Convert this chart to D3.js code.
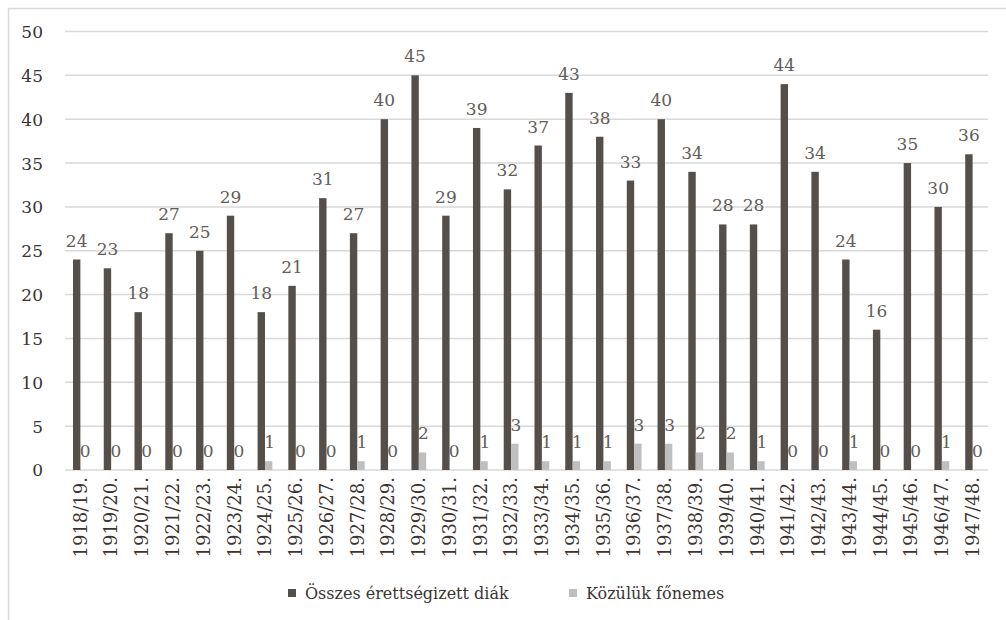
<!DOCTYPE html>
<html><head><meta charset="utf-8">
<script src="https://cdn.jsdelivr.net/npm/d3@7"></script>
<style>body{margin:0;background:#fff}svg{display:block}</style>
</head><body><svg id="c" width="1006" height="620"></svg>
<script>
const categories = ["1918/19.","1919/20.","1920/21.","1921/22.","1922/23.","1923/24.","1924/25.","1925/26.","1926/27.","1927/28.","1928/29.","1929/30.","1930/31.","1931/32.","1932/33.","1933/34.","1934/35.","1935/36.","1936/37.","1937/38.","1938/39.","1939/40.","1940/41.","1941/42.","1942/43.","1943/44.","1944/45.","1945/46.","1946/47.","1947/48."];
const totalStudents = [24,23,18,27,25,29,18,21,31,27,40,45,29,39,32,37,43,38,33,40,34,28,28,44,34,24,16,35,30,36];
const nobleStudents = [0,0,0,0,0,0,1,0,0,1,0,2,0,1,3,1,1,1,3,3,2,2,1,0,0,1,0,0,1,0];
const seriesNames = ["Összes érettségizett diák","Közülük főnemes"];
const yTicks = [0,5,10,15,20,25,30,35,40,45,50];
const colors = ["#544f4a","#bfbfbf"];
const FONT = "'DejaVu Serif', serif";

const svg = d3.select("#c");
svg.append("rect").attr("x",8.5).attr("y",8.5).attr("width",1100).attr("height",700)
  .attr("fill","none").attr("stroke","#d9d9d9").attr("stroke-width",1.5);

const L=65,R=988,T=31.5,B=470;
const y = d3.scaleLinear().domain([0,50]).range([B,T]);
const x = d3.scaleBand().domain(categories).range([L,R]).padding(0);
const x1 = d3.scaleBand().domain([0,1]).range([0,x.bandwidth()]).paddingInner(0).paddingOuter(1.08);

svg.append("g").selectAll("line").data(yTicks).join("line")
  .attr("x1",L).attr("x2",R).attr("y1",d=>y(d)).attr("y2",d=>y(d))
  .attr("stroke","#d9d9d9").attr("stroke-width",1.5);

const yAxis = d3.axisLeft(y).tickValues(yTicks).tickSize(0).tickPadding(0);
const gy = svg.append("g").attr("transform","translate(43,0)").call(yAxis);
gy.select(".domain").remove();
gy.attr("font-family",null);
gy.selectAll("text").style("font-family",FONT).style("font-size","17px").attr("fill","#3b3430").attr("dy","0.35em");

const data = categories.map((c,i)=>({c, v:[totalStudents[i], nobleStudents[i]]}));
const groups = svg.append("g").selectAll("g").data(data).join("g")
  .attr("transform",d=>`translate(${x(d.c)},0)`);
groups.selectAll("rect").data(d=>d.v.map((v,k)=>({v,k}))).join("rect")
  .attr("x",d=>x1(d.k)).attr("width",x1.bandwidth())
  .attr("y",d=>y(d.v)).attr("height",d=>y(0)-y(d.v))
  .attr("fill",d=>colors[d.k]);
groups.selectAll("text").data(d=>d.v.map((v,k)=>({v,k}))).join("text")
  .attr("x",d=>x1(d.k)+x1.bandwidth()/2 + (d.k===1?1:0))
  .attr("y",d=>y(d.v)-13)
  .attr("text-anchor","middle").style("font-family",FONT).style("font-size","17px").attr("fill","#625d59")
  .text(d=>d.v);

const xAxis = d3.axisBottom(x).tickSize(0).tickPadding(0);
const gx = svg.append("g").attr("transform",`translate(0,${B})`).call(xAxis);
gx.select(".domain").remove();
gx.attr("font-family",null);
gx.selectAll("text").style("font-family",FONT).style("font-size","18px").attr("fill","#3b3430")
  .attr("transform","rotate(-90)").attr("text-anchor","end").attr("x",-7).attr("y",0).attr("dy","0.35em");

const leg = svg.append("g");
const legX = [288,569];
seriesNames.forEach((n,i)=>{
  leg.append("rect").attr("x",legX[i]).attr("y",589).attr("width",8).attr("height",8).attr("fill",colors[i]);
  leg.append("text").attr("x",legX[i]+17).attr("y",599).style("font-family",FONT).style("font-size","16px").attr("fill","#3b3430").text(n);
});
</script></body></html>
